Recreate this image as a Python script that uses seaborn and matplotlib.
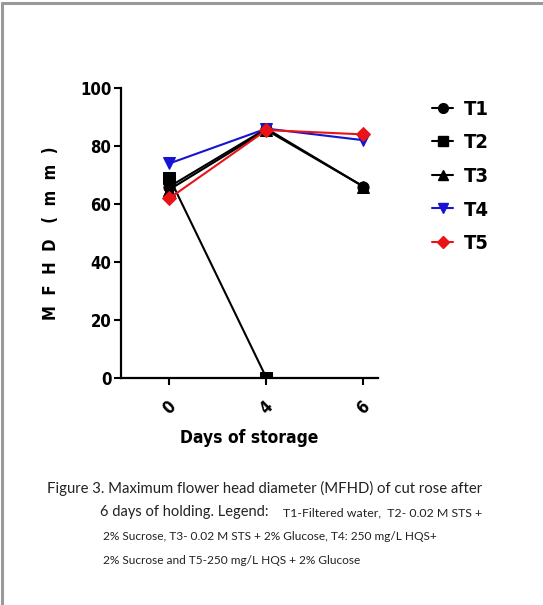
import numpy as np
import pandas as pd
import seaborn as sns
import matplotlib
matplotlib.use("Agg")
import matplotlib.pyplot as plt
from matplotlib.lines import Line2D

days = ["0", "4", "6"]
series_names = ["T1", "T2", "T3", "T4", "T5"]
t1 = [66, 86, 66]
t2 = [69, 0, np.nan]
t3 = [65, 85.5, 66]
t4 = [74, 86, 82]
t5 = [62, 85.5, 84]
values = [t1, t2, t3, t4, t5]
colors = ["black", "black", "black", "#1414d2", "#e81418"]
markers = ["o", "s", "^", "v", "D"]
yticks = [0, 20, 40, 60, 80, 100]

rows = []
for name, vals in zip(series_names, values):
    for d, v in zip(days, vals):
        rows.append({"Day": d, "Value": v, "Series": name})
df = pd.DataFrame(rows)

sns.set_style("ticks")
narrow = ["DejaVu Sans"]
plt.rcParams["font.family"] = narrow
plt.rcParams["font.stretch"] = "condensed"
for k in ["text.color", "axes.labelcolor", "xtick.color", "ytick.color", "axes.edgecolor"]:
    plt.rcParams[k] = "black"

fig = plt.figure(figsize=(5.43, 6.05), dpi=100)
ax = fig.add_axes([121 / 543, 1 - 378 / 605, (378 - 121) / 543, (378 - 88) / 605])

for name, col, mk in zip(series_names, colors, markers):
    sub = df[df["Series"] == name].dropna()
    sns.lineplot(data=sub, x="Day", y="Value", ax=ax, color=col, marker=mk,
                 markersize=8 if mk != "D" else 7, markeredgecolor=col,
                 linewidth=1.5, label=name, legend=False)

ax.set_xlim(-0.5, 2.15)
ax.set_ylim(0, 100)
ax.set_yticks(yticks)
ax.set_yticklabels([str(v) for v in yticks], fontsize=12, fontweight="bold",
                   fontstretch="condensed")
ax.set_xticks(range(len(days)))
ax.set_xticklabels(days, rotation=45, fontsize=12, fontweight="bold", ha="center",
                   fontstretch="condensed")
ax.tick_params(axis="both", width=1.5, length=5, color="black")
ax.tick_params(axis="x", pad=9)
ax.tick_params(axis="y", pad=2)
for s in ["top", "right"]:
    ax.spines[s].set_visible(False)
for s in ["left", "bottom"]:
    ax.spines[s].set_linewidth(1.6)
    ax.spines[s].set_color("black")
ax.set_xlabel("Days of storage", fontsize=12.5, fontweight="bold", labelpad=8,
              fontstretch="condensed")
ax.set_ylabel("M  F  H  D   (  m  m  )", fontsize=12, fontweight="bold", labelpad=14,
              fontstretch="condensed")

handles = [Line2D([], [], color=c, marker=m, linewidth=1.5,
                  markersize=7 if m != "D" else 6) for c, m in zip(colors, markers)]
leg = fig.legend(handles, series_names, loc="upper left",
                 bbox_to_anchor=(432 / 543, 1 - 100 / 605), frameon=False,
                 borderpad=0, borderaxespad=0,
                 handlelength=1.05, handletextpad=0.55, labelspacing=0.72,
                 prop={"family": narrow, "weight": "bold", "size": 14.5,
                       "stretch": "condensed"})

cap = ["Lato", "Open Sans", "DejaVu Sans"]
fig.text(47 / 543, 1 - 488 / 605,
         "Figure 3. Maximum flower head diameter (MFHD) of cut rose after",
         fontsize=10.75, family=cap, va="center", ha="left", color="#222222")
fig.text(100 / 543, 1 - 512 / 605, "6 days of holding. Legend:",
         fontsize=10.5, family=cap, va="center", ha="left", color="#222222")
fig.text(283 / 543, 1 - 513 / 605, "T1-Filtered water,  T2- 0.02 M STS +",
         fontsize=8.9, family=cap, va="center", ha="left", color="#222222")
fig.text(103 / 543, 1 - 537 / 605,
         "2% Sucrose, T3- 0.02 M STS + 2% Glucose, T4: 250 mg/L HQS+",
         fontsize=8.6, family=cap, va="center", ha="left", color="#222222")
fig.text(103 / 543, 1 - 561 / 605,
         "2% Sucrose and T5-250 mg/L HQS + 2% Glucose",
         fontsize=8.6, family=cap, va="center", ha="left", color="#222222")

fig.add_artist(Line2D([1.5 / 543, 1.5 / 543], [0, 1 - 2.5 / 605],
                      color="#999999", linewidth=2.2, transform=fig.transFigure))
fig.add_artist(Line2D([1.5 / 543, 1], [1 - 2.5 / 605, 1 - 2.5 / 605],
                      color="#999999", linewidth=2.2, transform=fig.transFigure))

fig.savefig("out.png", dpi=100)
